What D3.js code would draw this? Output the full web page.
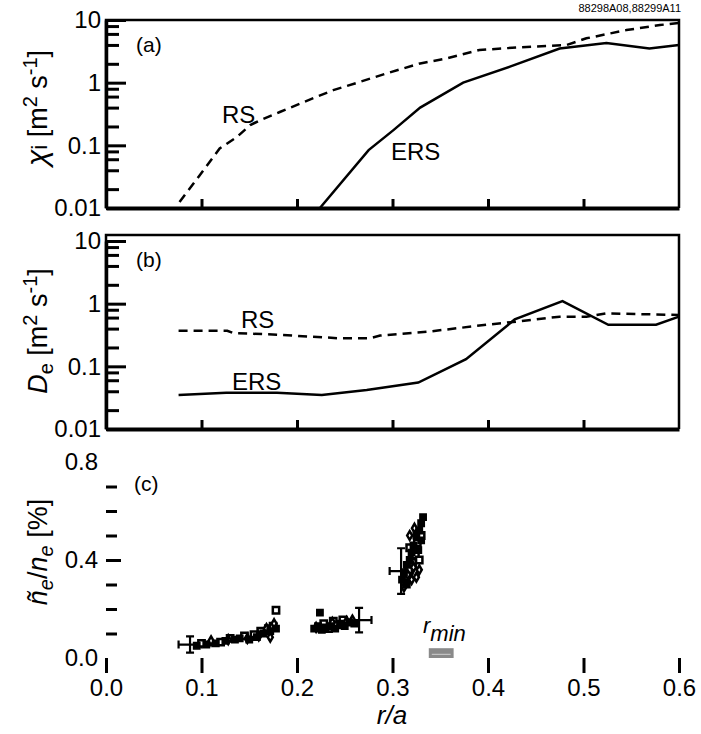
<!DOCTYPE html>
<html lang=en>
<head>
<meta charset=utf-8>
<title>chi_i, D_e and density fluctuations vs r/a</title>
<script src=https://cdn.jsdelivr.net/npm/d3@7/dist/d3.min.js></script>
<style>
body{margin:0;background:#fff}
svg{font-family:"Liberation Sans",Arial,Helvetica,sans-serif}
</style>
</head>
<body>
<svg id=chart width=701 height=734></svg>
<script>
// panel (a): ion thermal diffusivity
var chiRS_r  = [0.077,0.098,0.119,0.137,0.151,0.161,0.182,0.207,0.238,0.266,0.294,0.329,0.357,0.391,0.433,0.482,0.503,0.545,0.580,0.600];
var chiRS    = [0.0125,0.033,0.089,0.136,0.21,0.25,0.34,0.49,0.76,1.03,1.41,2.03,2.44,3.32,3.67,3.98,5.1,6.9,8.3,9.0];
var chiERS_r = [0.224,0.275,0.301,0.329,0.374,0.423,0.475,0.524,0.569,0.600];
var chiERS   = [0.01,0.084,0.175,0.40,1.0,1.8,3.5,4.3,3.5,4.0];
// panel (b): particle diffusivity
var deRS_r   = [0.076,0.127,0.133,0.179,0.245,0.276,0.287,0.339,0.398,0.426,0.475,0.503,0.524,0.600];
var deRS     = [0.37,0.37,0.34,0.32,0.28,0.28,0.31,0.36,0.46,0.51,0.62,0.62,0.70,0.66];
var deERS_r  = [0.076,0.126,0.179,0.226,0.273,0.327,0.377,0.428,0.478,0.526,0.576,0.600];
var deERS    = [0.035,0.038,0.038,0.035,0.042,0.055,0.13,0.56,1.1,0.46,0.46,0.62];
// panel (c): fluctuation level, three symbol sets
var filledSq = [[0.095,0.05],[0.105,0.055],[0.115,0.06],[0.125,0.07],[0.135,0.075],[0.14,0.08],[0.15,0.075],[0.158,0.085],[0.165,0.10],[0.172,0.11],[0.178,0.12],
                [0.218,0.12],[0.222,0.13],[0.226,0.115],[0.23,0.125],[0.235,0.13],[0.24,0.12],[0.245,0.14],[0.25,0.13],[0.255,0.145],[0.26,0.14],[0.224,0.185],
                [0.31,0.32],[0.312,0.35],[0.315,0.38],[0.318,0.4],[0.32,0.43],[0.322,0.46],[0.325,0.5],[0.328,0.52],[0.33,0.55],[0.332,0.575],[0.315,0.30],[0.327,0.44],[0.33,0.48]];
var openSq   = [[0.10,0.06],[0.12,0.065],[0.13,0.08],[0.145,0.09],[0.155,0.095],[0.162,0.11],[0.17,0.12],[0.175,0.13],[0.178,0.195],
                [0.228,0.14],[0.238,0.15],[0.248,0.155],[0.242,0.135],[0.233,0.12],
                [0.313,0.33],[0.317,0.36],[0.321,0.39],[0.324,0.42],[0.326,0.47],[0.33,0.5],[0.318,0.45],[0.328,0.40]];
var diamonds = [[0.11,0.07],[0.128,0.075],[0.148,0.08],[0.16,0.09],[0.168,0.12],[0.176,0.14],[0.172,0.085],
                [0.237,0.145],[0.252,0.15],[0.258,0.155],[0.22,0.125],
                [0.316,0.34],[0.32,0.32],[0.325,0.33],[0.322,0.37],[0.318,0.5],[0.323,0.53],[0.328,0.36],[0.312,0.29]];
var errBars  = [{x:0.088,y:0.055,dx:0.012,dy:0.033},{x:0.265,y:0.155,dx:0.013,dy:0.05},{x:0.309,y:0.355,dx:0.012,dy:0.093}];
var rmin     = [0.338,0.364];

var logMajor = [0.01,0.1,1,10];
var logMinor = [0.02,0.04,0.06,0.08,0.2,0.4,0.6,0.8,2,4,6,8];
var rTicks   = [0,0.1,0.2,0.3,0.4,0.5,0.6];
var nMajor   = [0,0.4,0.8];
var nMinor   = [0.1,0.2,0.3,0.5,0.6,0.7];

var svg = d3.select("#chart");
var x = d3.scaleLinear([0,0.6],[106,679]);
var ya = d3.scaleLog([0.01,10],[208,20]);
var yb = d3.scaleLog([0.01,10],[429,241]);
var yc = d3.scaleLinear([0,0.8],[658,462]);
var fmtLog = d => d >= 1 ? d3.format("d")(d) : String(d);

function logPanel(y, top, tag, rs, rsR, ers, ersR, labels) {
  var g = svg.append("g");
  // frame
  g.append("path").attr("d", `M${x(0)},${y(0.01)}V${top}H${x(0.6)}V${y(0.01)}`)
    .attr("fill", "none").attr("stroke", "#000").attr("stroke-width", 2.5);
  g.append("g").attr("transform", `translate(${x(0)},0)`)
    .call(d3.axisLeft(y).tickValues(logMinor).tickSize(-13).tickFormat("").tickSizeOuter(0))
    .call(a => a.select(".domain").remove());
  g.append("g").attr("transform", `translate(${x(0)},0)`)
    .call(d3.axisLeft(y).tickValues(logMajor).tickSize(-20).tickPadding(5).tickFormat(fmtLog).tickSizeOuter(0))
    .call(a => a.select(".domain").attr("stroke-width", 3.5));
  g.append("g").attr("transform", `translate(0,${y(0.01)})`)
    .call(d3.axisBottom(x).tickValues(rTicks.slice(1, -1)).tickSize(-9).tickFormat("").tickSizeOuter(0))
    .call(a => a.select(".domain").attr("stroke-width", 4));
  g.selectAll(".tick line").attr("stroke-width", 3);
  g.selectAll(".tick text").attr("font-size", 24).attr("font-family", null).attr("fill", "#000");
  var line = d3.line().x(d => x(d[0])).y(d => y(d[1]));
  g.append("path").datum(d3.zip(rsR, rs)).attr("d", line)
    .attr("fill", "none").attr("stroke", "#000").attr("stroke-width", 2.5).attr("stroke-dasharray", "9,6");
  g.append("path").datum(d3.zip(ersR, ers)).attr("d", line)
    .attr("fill", "none").attr("stroke", "#000").attr("stroke-width", 2.5);
  g.append("text").attr("x", 136).attr("y", top + 32).attr("font-size", 21).text(tag);
  labels.forEach(l => g.append("text").attr("x", l[0]).attr("y", l[1]).attr("font-size", 24).text(l[2]));
  return g;
}

// (a)
var ga = logPanel(ya, 20, "(a)", chiRS, chiRS_r, chiERS, chiERS_r, [[222,123,"RS"],[391,160,"ERS"]]);
var ta = ga.append("text").attr("transform", "translate(47,108) rotate(-90)").attr("text-anchor", "middle").attr("font-size", 27);
ta.append("tspan").attr("font-style", "italic").attr("font-size", 30).text("χ");
ta.append("tspan").attr("font-size", 22).text("i");
ta.append("tspan").text(" [m");
ta.append("tspan").attr("dy", -10).attr("font-size", 20).text("2");
ta.append("tspan").attr("dy", 10).text(" s");
ta.append("tspan").attr("dy", -10).attr("font-size", 20).text("-1");
ta.append("tspan").attr("dy", 10).text("]");

// (b)
var gb = logPanel(yb, 235, "(b)", deRS, deRS_r, deERS, deERS_r, [[241,328,"RS"],[232,390,"ERS"]]);
var tb = gb.append("text").attr("transform", "translate(47,331) rotate(-90)").attr("text-anchor", "middle").attr("font-size", 27);
tb.append("tspan").attr("font-style", "italic").text("D");
tb.append("tspan").attr("dy", 6).attr("font-size", 20).text("e");
tb.append("tspan").attr("dy", -6).text(" [m");
tb.append("tspan").attr("dy", -10).attr("font-size", 20).text("2");
tb.append("tspan").attr("dy", 10).text(" s");
tb.append("tspan").attr("dy", -10).attr("font-size", 20).text("-1");
tb.append("tspan").attr("dy", 10).text("]");

// (c)
var gc = svg.append("g");
gc.append("g").attr("transform", `translate(${x(0)},0)`)
  .call(d3.axisLeft(yc).tickValues(nMinor).tickSize(-11).tickFormat("").tickSizeOuter(0))
  .call(a => a.select(".domain").remove());
gc.append("g").attr("transform", `translate(${x(0)},0)`)
  .call(d3.axisLeft(yc).tickValues(nMajor).tickSize(-15).tickPadding(8).tickFormat(d3.format(".1f")).tickSizeOuter(0))
  .call(a => a.select(".domain").remove())
  .call(a => a.selectAll(".tick line").filter(d => d !== 0.4).remove());
gc.append("g").attr("transform", `translate(0,${yc(0)})`)
  .call(d3.axisBottom(x).tickValues(rTicks).tickSize(15).tickPadding(6).tickFormat(d3.format(".1f")))
  .call(a => a.select(".domain").remove());
gc.selectAll(".tick line").attr("stroke-width", 3);
gc.selectAll(".tick text").attr("font-size", 24).attr("font-family", null).attr("fill", "#000");
gc.append("text").attr("x", 134).attr("y", 491).attr("font-size", 21).text("(c)");

// error bars
var eb = gc.append("g").attr("stroke", "#000").attr("stroke-width", 2.2).selectAll("g").data(errBars).join("g");
eb.append("path").attr("d", d => `M${x(d.x - d.dx)},${yc(d.y)}H${x(d.x + d.dx)}M${x(d.x)},${yc(d.y - d.dy)}V${yc(d.y + d.dy)}`);
eb.append("path").attr("d", d => `M${x(d.x) - 4},${yc(d.y - d.dy)}h8M${x(d.x) - 4},${yc(d.y + d.dy)}h8M${x(d.x - d.dx)},${yc(d.y) - 4}v8M${x(d.x + d.dx)},${yc(d.y) - 4}v8`);

var sq = d3.symbol(d3.symbolSquare, 40), dm = d3.symbol(d3.symbolDiamond, 22);
gc.append("g").selectAll("path").data(openSq).join("path")
  .attr("transform", d => `translate(${x(d[0])},${yc(d[1])})`).attr("d", sq)
  .attr("fill", "#fff").attr("stroke", "#000").attr("stroke-width", 2.5);
gc.append("g").selectAll("path").data(diamonds).join("path")
  .attr("transform", d => `translate(${x(d[0])},${yc(d[1])})`).attr("d", dm)
  .attr("fill", "#fff").attr("stroke", "#000").attr("stroke-width", 2.5);
gc.append("g").selectAll("path").data(filledSq).join("path")
  .attr("transform", d => `translate(${x(d[0])},${yc(d[1])})`).attr("d", sq)
  .attr("fill", "#000").attr("stroke", "#000").attr("stroke-width", 1.5);

// r_min marker
gc.append("rect").attr("x", x(rmin[0])).attr("y", yc(0.04)).attr("width", x(rmin[1]) - x(rmin[0])).attr("height", yc(0) - yc(0.04))
  .attr("fill", "#8a8a8a");
gc.append("line").attr("x1", x(rmin[0]) + 3).attr("x2", x(rmin[1]) - 3).attr("y1", yc(0.015)).attr("y2", yc(0.015))
  .attr("stroke", "#d0d0d0").attr("stroke-width", 1);
var tr = gc.append("text").attr("x", 423).attr("y", 633).attr("font-size", 22).attr("font-style", "italic");
tr.append("tspan").text("r");
tr.append("tspan").attr("dy", 8).text("min");

var tc = gc.append("text").attr("transform", "translate(47,552) rotate(-90)").attr("text-anchor", "middle").attr("font-size", 27);
tc.append("tspan").attr("font-style", "italic").text("ñ");
tc.append("tspan").attr("dy", 6).attr("font-size", 20).attr("font-style", "italic").text("e");
tc.append("tspan").attr("dy", -6).text("/");
tc.append("tspan").attr("font-style", "italic").text("n");
tc.append("tspan").attr("dy", 6).attr("font-size", 20).attr("font-style", "italic").text("e");
tc.append("tspan").attr("dy", -6).text(" [%]");

svg.append("text").attr("x", 392).attr("y", 724).attr("text-anchor", "middle").attr("font-size", 26).attr("font-style", "italic").text("r/a");
svg.append("text").attr("x", 681).attr("y", 12).attr("text-anchor", "end").attr("font-size", 11).text("88298A08,88299A11");
</script>
</body>
</html>
